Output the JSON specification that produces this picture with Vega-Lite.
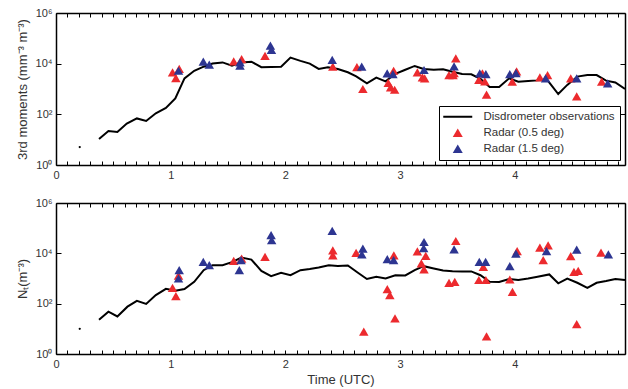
{
  "$schema": "https://vega.github.io/schema/vega-lite/v6.json",
  "padding": {"left": 16, "top": 7, "right": 1, "bottom": 2},
  "spacing": 17,
  "config": {
    "font": "Liberation Sans",
    "view": {"stroke": null},
    "axis": {"grid": false, "domainColor": "black", "domainWidth": 1.5, "tickColor": "black", "tickWidth": 1, "labelFont": "Liberation Sans", "labelFontSize": 11, "labelColor": "#333", "titleFont": "Liberation Sans", "titleFontSize": 13, "titleFontWeight": "normal", "titleColor": "#333", "labelOverlap": false, "labelFlush": false}
  },
  "datasets": {
    "topD": [
      {"t":0.207,"v":5.1,"s":"Disdrometer observations"},{"t":0.375,"v":10.7,"s":"Disdrometer observations"},{"t":0.457,"v":22,"s":"Disdrometer observations"},{"t":0.535,"v":20,"s":"Disdrometer observations"},{"t":0.617,"v":43,"s":"Disdrometer observations"},{"t":0.705,"v":69,"s":"Disdrometer observations"},{"t":0.786,"v":55,"s":"Disdrometer observations"},{"t":0.87,"v":110,"s":"Disdrometer observations"},{"t":0.958,"v":178,"s":"Disdrometer observations"},{"t":1.04,"v":427,"s":"Disdrometer observations"},{"t":1.12,"v":2630,"s":"Disdrometer observations"},{"t":1.205,"v":5250,"s":"Disdrometer observations"},{"t":1.287,"v":7590,"s":"Disdrometer observations"},{"t":1.365,"v":10200,"s":"Disdrometer observations"},{"t":1.452,"v":11200,"s":"Disdrometer observations"},{"t":1.534,"v":8320,"s":"Disdrometer observations"},{"t":1.616,"v":11200,"s":"Disdrometer observations"},{"t":1.703,"v":12000,"s":"Disdrometer observations"},{"t":1.79,"v":7240,"s":"Disdrometer observations"},{"t":1.875,"v":7410,"s":"Disdrometer observations"},{"t":1.962,"v":7590,"s":"Disdrometer observations"},{"t":2.044,"v":17400,"s":"Disdrometer observations"},{"t":2.131,"v":12900,"s":"Disdrometer observations"},{"t":2.212,"v":10000,"s":"Disdrometer observations"},{"t":2.29,"v":6170,"s":"Disdrometer observations"},{"t":2.37,"v":7240,"s":"Disdrometer observations"},{"t":2.457,"v":6170,"s":"Disdrometer observations"},{"t":2.544,"v":4570,"s":"Disdrometer observations"},{"t":2.617,"v":3160,"s":"Disdrometer observations"},{"t":2.71,"v":1660,"s":"Disdrometer observations"},{"t":2.792,"v":2820,"s":"Disdrometer observations"},{"t":2.873,"v":2000,"s":"Disdrometer observations"},{"t":2.958,"v":3980,"s":"Disdrometer observations"},{"t":3.045,"v":5750,"s":"Disdrometer observations"},{"t":3.127,"v":8130,"s":"Disdrometer observations"},{"t":3.205,"v":6170,"s":"Disdrometer observations"},{"t":3.293,"v":5750,"s":"Disdrometer observations"},{"t":3.374,"v":6030,"s":"Disdrometer observations"},{"t":3.456,"v":4790,"s":"Disdrometer observations"},{"t":3.54,"v":3890,"s":"Disdrometer observations"},{"t":3.62,"v":3800,"s":"Disdrometer observations"},{"t":3.7,"v":2510,"s":"Disdrometer observations"},{"t":3.78,"v":1200,"s":"Disdrometer observations"},{"t":3.863,"v":1200,"s":"Disdrometer observations"},{"t":3.95,"v":2630,"s":"Disdrometer observations"},{"t":4.03,"v":1950,"s":"Disdrometer observations"},{"t":4.116,"v":2090,"s":"Disdrometer observations"},{"t":4.198,"v":2190,"s":"Disdrometer observations"},{"t":4.28,"v":2340,"s":"Disdrometer observations"},{"t":4.378,"v":631,"s":"Disdrometer observations"},{"t":4.457,"v":1450,"s":"Disdrometer observations"},{"t":4.544,"v":3090,"s":"Disdrometer observations"},{"t":4.632,"v":3550,"s":"Disdrometer observations"},{"t":4.713,"v":3550,"s":"Disdrometer observations"},{"t":4.795,"v":2140,"s":"Disdrometer observations"},{"t":4.876,"v":1820,"s":"Disdrometer observations"},{"t":4.96,"v":1000,"s":"Disdrometer observations"}
    ],
    "topR": [
      {"t":1.016,"v":4570,"s":"Radar (0.5 deg)"},{"t":1.045,"v":2690,"s":"Radar (0.5 deg)"},{"t":1.074,"v":6170,"s":"Radar (0.5 deg)"},{"t":1.549,"v":12300,"s":"Radar (0.5 deg)"},{"t":1.618,"v":15100,"s":"Radar (0.5 deg)"},{"t":1.822,"v":20400,"s":"Radar (0.5 deg)"},{"t":2.413,"v":7590,"s":"Radar (0.5 deg)"},{"t":2.623,"v":7240,"s":"Radar (0.5 deg)"},{"t":2.675,"v":1000,"s":"Radar (0.5 deg)"},{"t":2.896,"v":1740,"s":"Radar (0.5 deg)"},{"t":2.917,"v":1170,"s":"Radar (0.5 deg)"},{"t":2.952,"v":933,"s":"Radar (0.5 deg)"},{"t":2.943,"v":5250,"s":"Radar (0.5 deg)"},{"t":3.15,"v":4570,"s":"Radar (0.5 deg)"},{"t":3.194,"v":2880,"s":"Radar (0.5 deg)"},{"t":3.214,"v":2630,"s":"Radar (0.5 deg)"},{"t":3.426,"v":3550,"s":"Radar (0.5 deg)"},{"t":3.461,"v":3550,"s":"Radar (0.5 deg)"},{"t":3.485,"v":16200,"s":"Radar (0.5 deg)"},{"t":3.47,"v":4270,"s":"Radar (0.5 deg)"},{"t":3.686,"v":2290,"s":"Radar (0.5 deg)"},{"t":3.717,"v":4170,"s":"Radar (0.5 deg)"},{"t":3.738,"v":2000,"s":"Radar (0.5 deg)"},{"t":3.753,"v":603,"s":"Radar (0.5 deg)"},{"t":3.977,"v":1950,"s":"Radar (0.5 deg)"},{"t":4.015,"v":5010,"s":"Radar (0.5 deg)"},{"t":4.218,"v":2880,"s":"Radar (0.5 deg)"},{"t":4.285,"v":3550,"s":"Radar (0.5 deg)"},{"t":4.487,"v":2630,"s":"Radar (0.5 deg)"},{"t":4.539,"v":513,"s":"Radar (0.5 deg)"},{"t":4.757,"v":1950,"s":"Radar (0.5 deg)"},
      {"t":1.068,"v":5250,"s":"Radar (1.5 deg)"},{"t":1.284,"v":12000,"s":"Radar (1.5 deg)"},{"t":1.336,"v":9120,"s":"Radar (1.5 deg)"},{"t":1.604,"v":11200,"s":"Radar (1.5 deg)"},{"t":1.604,"v":8320,"s":"Radar (1.5 deg)"},{"t":1.869,"v":51300,"s":"Radar (1.5 deg)"},{"t":1.878,"v":34700,"s":"Radar (1.5 deg)"},{"t":2.408,"v":14100,"s":"Radar (1.5 deg)"},{"t":2.665,"v":7590,"s":"Radar (1.5 deg)"},{"t":2.887,"v":4170,"s":"Radar (1.5 deg)"},{"t":2.937,"v":3890,"s":"Radar (1.5 deg)"},{"t":3.208,"v":5620,"s":"Radar (1.5 deg)"},{"t":3.47,"v":7760,"s":"Radar (1.5 deg)"},{"t":3.694,"v":4170,"s":"Radar (1.5 deg)"},{"t":3.747,"v":3890,"s":"Radar (1.5 deg)"},{"t":3.956,"v":3890,"s":"Radar (1.5 deg)"},{"t":4.009,"v":4270,"s":"Radar (1.5 deg)"},{"t":4.268,"v":2630,"s":"Radar (1.5 deg)"},{"t":4.539,"v":2630,"s":"Radar (1.5 deg)"},{"t":4.809,"v":1660,"s":"Radar (1.5 deg)"}
    ],
    "botD": [
      {"t":0.207,"v":10,"s":"Disdrometer observations"},{"t":0.375,"v":23,"s":"Disdrometer observations"},{"t":0.457,"v":48,"s":"Disdrometer observations"},{"t":0.535,"v":31,"s":"Disdrometer observations"},{"t":0.623,"v":76,"s":"Disdrometer observations"},{"t":0.705,"v":129,"s":"Disdrometer observations"},{"t":0.786,"v":98,"s":"Disdrometer observations"},{"t":0.87,"v":219,"s":"Disdrometer observations"},{"t":0.958,"v":389,"s":"Disdrometer observations"},{"t":1.04,"v":324,"s":"Disdrometer observations"},{"t":1.12,"v":380,"s":"Disdrometer observations"},{"t":1.205,"v":741,"s":"Disdrometer observations"},{"t":1.287,"v":2140,"s":"Disdrometer observations"},{"t":1.365,"v":3390,"s":"Disdrometer observations"},{"t":1.452,"v":3390,"s":"Disdrometer observations"},{"t":1.534,"v":4470,"s":"Disdrometer observations"},{"t":1.616,"v":6760,"s":"Disdrometer observations"},{"t":1.703,"v":5620,"s":"Disdrometer observations"},{"t":1.79,"v":2000,"s":"Disdrometer observations"},{"t":1.875,"v":1230,"s":"Disdrometer observations"},{"t":1.962,"v":1700,"s":"Disdrometer observations"},{"t":2.044,"v":1350,"s":"Disdrometer observations"},{"t":2.131,"v":2140,"s":"Disdrometer observations"},{"t":2.212,"v":2400,"s":"Disdrometer observations"},{"t":2.29,"v":2750,"s":"Disdrometer observations"},{"t":2.378,"v":3390,"s":"Disdrometer observations"},{"t":2.457,"v":3160,"s":"Disdrometer observations"},{"t":2.544,"v":3310,"s":"Disdrometer observations"},{"t":2.632,"v":1700,"s":"Disdrometer observations"},{"t":2.71,"v":955,"s":"Disdrometer observations"},{"t":2.792,"v":1170,"s":"Disdrometer observations"},{"t":2.873,"v":1000,"s":"Disdrometer observations"},{"t":2.958,"v":1350,"s":"Disdrometer observations"},{"t":3.045,"v":1320,"s":"Disdrometer observations"},{"t":3.127,"v":2140,"s":"Disdrometer observations"},{"t":3.205,"v":3090,"s":"Disdrometer observations"},{"t":3.293,"v":2510,"s":"Disdrometer observations"},{"t":3.374,"v":2090,"s":"Disdrometer observations"},{"t":3.456,"v":1950,"s":"Disdrometer observations"},{"t":3.54,"v":1910,"s":"Disdrometer observations"},{"t":3.62,"v":1910,"s":"Disdrometer observations"},{"t":3.7,"v":1350,"s":"Disdrometer observations"},{"t":3.78,"v":741,"s":"Disdrometer observations"},{"t":3.863,"v":724,"s":"Disdrometer observations"},{"t":3.95,"v":955,"s":"Disdrometer observations"},{"t":4.03,"v":871,"s":"Disdrometer observations"},{"t":4.116,"v":1000,"s":"Disdrometer observations"},{"t":4.198,"v":1170,"s":"Disdrometer observations"},{"t":4.3,"v":1450,"s":"Disdrometer observations"},{"t":4.378,"v":646,"s":"Disdrometer observations"},{"t":4.457,"v":1000,"s":"Disdrometer observations"},{"t":4.544,"v":676,"s":"Disdrometer observations"},{"t":4.632,"v":427,"s":"Disdrometer observations"},{"t":4.713,"v":676,"s":"Disdrometer observations"},{"t":4.795,"v":794,"s":"Disdrometer observations"},{"t":4.876,"v":955,"s":"Disdrometer observations"},{"t":4.96,"v":871,"s":"Disdrometer observations"}
    ],
    "botR": [
      {"t":1.016,"v":427,"s":"Radar (0.5 deg)"},{"t":1.045,"v":200,"s":"Radar (0.5 deg)"},{"t":1.068,"v":1290,"s":"Radar (0.5 deg)"},{"t":1.549,"v":5010,"s":"Radar (0.5 deg)"},{"t":1.618,"v":6170,"s":"Radar (0.5 deg)"},{"t":1.822,"v":7240,"s":"Radar (0.5 deg)"},{"t":2.413,"v":13200,"s":"Radar (0.5 deg)"},{"t":2.413,"v":8320,"s":"Radar (0.5 deg)"},{"t":2.616,"v":10500,"s":"Radar (0.5 deg)"},{"t":2.683,"v":7.8,"s":"Radar (0.5 deg)"},{"t":2.888,"v":380,"s":"Radar (0.5 deg)"},{"t":2.91,"v":219,"s":"Radar (0.5 deg)"},{"t":2.945,"v":8320,"s":"Radar (0.5 deg)"},{"t":2.955,"v":26,"s":"Radar (0.5 deg)"},{"t":3.15,"v":12000,"s":"Radar (0.5 deg)"},{"t":3.185,"v":3980,"s":"Radar (0.5 deg)"},{"t":3.208,"v":2290,"s":"Radar (0.5 deg)"},{"t":3.223,"v":7940,"s":"Radar (0.5 deg)"},{"t":3.426,"v":676,"s":"Radar (0.5 deg)"},{"t":3.476,"v":741,"s":"Radar (0.5 deg)"},{"t":3.485,"v":30900,"s":"Radar (0.5 deg)"},{"t":3.686,"v":871,"s":"Radar (0.5 deg)"},{"t":3.725,"v":2880,"s":"Radar (0.5 deg)"},{"t":3.747,"v":871,"s":"Radar (0.5 deg)"},{"t":3.753,"v":5,"s":"Radar (0.5 deg)"},{"t":3.956,"v":912,"s":"Radar (0.5 deg)"},{"t":3.979,"v":295,"s":"Radar (0.5 deg)"},{"t":4.02,"v":12300,"s":"Radar (0.5 deg)"},{"t":4.218,"v":17000,"s":"Radar (0.5 deg)"},{"t":4.247,"v":5370,"s":"Radar (0.5 deg)"},{"t":4.29,"v":20900,"s":"Radar (0.5 deg)"},{"t":4.487,"v":7760,"s":"Radar (0.5 deg)"},{"t":4.515,"v":1820,"s":"Radar (0.5 deg)"},{"t":4.552,"v":2000,"s":"Radar (0.5 deg)"},{"t":4.539,"v":15.5,"s":"Radar (0.5 deg)"},{"t":4.751,"v":10700,"s":"Radar (0.5 deg)"},
      {"t":1.074,"v":2140,"s":"Radar (1.5 deg)"},{"t":1.068,"v":1000,"s":"Radar (1.5 deg)"},{"t":1.284,"v":4570,"s":"Radar (1.5 deg)"},{"t":1.336,"v":3390,"s":"Radar (1.5 deg)"},{"t":1.613,"v":5370,"s":"Radar (1.5 deg)"},{"t":1.598,"v":2140,"s":"Radar (1.5 deg)"},{"t":1.875,"v":52500,"s":"Radar (1.5 deg)"},{"t":1.88,"v":33100,"s":"Radar (1.5 deg)"},{"t":2.408,"v":77600,"s":"Radar (1.5 deg)"},{"t":2.675,"v":15500,"s":"Radar (1.5 deg)"},{"t":2.666,"v":9120,"s":"Radar (1.5 deg)"},{"t":2.888,"v":5890,"s":"Radar (1.5 deg)"},{"t":2.943,"v":5370,"s":"Radar (1.5 deg)"},{"t":3.208,"v":28200,"s":"Radar (1.5 deg)"},{"t":3.205,"v":16200,"s":"Radar (1.5 deg)"},{"t":3.47,"v":14500,"s":"Radar (1.5 deg)"},{"t":3.69,"v":4570,"s":"Radar (1.5 deg)"},{"t":3.745,"v":4570,"s":"Radar (1.5 deg)"},{"t":3.956,"v":3090,"s":"Radar (1.5 deg)"},{"t":4.009,"v":9770,"s":"Radar (1.5 deg)"},{"t":4.276,"v":12300,"s":"Radar (1.5 deg)"},{"t":4.539,"v":14100,"s":"Radar (1.5 deg)"},{"t":4.815,"v":9120,"s":"Radar (1.5 deg)"}
    ]
  },
  "vconcat": [
    {
      "width": 569, "height": 152,
      "layer": [
        {
          "data": {"name": "topD"},
          "transform": [{"filter": "datum.t > 0.3"}],
          "mark": {"type": "line", "strokeWidth": 2, "clip": true},
          "encoding": {
            "x": {"field": "t", "type": "quantitative", "scale": {"domain": [0, 4.96], "nice": false, "zero": false},
                  "axis": {"title": null, "values": [0,0.1,0.2,0.3,0.4,0.5,0.6,0.7,0.8,0.9,1,1.1,1.2,1.3,1.4,1.5,1.6,1.7,1.8,1.9,2,2.1,2.2,2.3,2.4,2.5,2.6,2.7,2.8,2.9,3,3.1,3.2,3.3,3.4,3.5,3.6,3.7,3.8,3.9,4,4.1,4.2,4.3,4.4,4.5,4.6,4.7,4.8,4.9],
                           "labelExpr": "abs(datum.value - round(datum.value)) < 0.001 ? format(datum.value, 'd') : ''", "tickSize": -4, "labelPadding": 8}},
            "y": {"field": "v", "type": "quantitative", "scale": {"type": "log", "domain": [1, 1000000], "nice": false},
                  "axis": {"title": "3rd moments (mm⁻³ m⁻³)", "values": [1, 100, 10000, 1000000], "labelExpr": "'10' + (datum.value == 1 ? '⁰' : datum.value == 100 ? '²' : datum.value == 10000 ? '⁴' : '⁶')", "tickSize": -5, "labelPadding": 9, "titlePadding": 6}},
            "color": {"field": "s", "type": "nominal", "title": null,
                      "scale": {"domain": ["Disdrometer observations", "Radar (0.5 deg)", "Radar (1.5 deg)"], "range": ["#000000", "#ec2a2e", "#2d3591"]},
                      "legend": {"orient": "bottom-right", "offset": 5, "title": null, "strokeColor": "black", "fillColor": "white", "padding": 5, "symbolOffset": 8, "labelOffset": 20, "labelFontSize": 11.5, "labelFont": "Liberation Sans", "labelColor": "#333", "rowPadding": 3, "symbolSize": 100,
                                 "encode": {"symbols": {"update": {"stroke": {"scale": "color", "field": "value"}, "strokeWidth": {"signal": "datum.value === 'Disdrometer observations' ? 2 : 0"}}}}}}
          }
        },
        {
          "data": {"name": "topD"},
          "transform": [{"filter": "datum.t < 0.3"}],
          "mark": {"type": "point", "shape": "circle", "filled": true, "color": "black", "size": 5, "opacity": 1},
          "encoding": {
            "x": {"field": "t", "type": "quantitative", "scale": {"domain": [0, 4.96], "nice": false, "zero": false}, "axis": null},
            "y": {"field": "v", "type": "quantitative", "scale": {"type": "log", "domain": [1, 1000000], "nice": false}, "axis": null}
          }
        },
        {
          "data": {"name": "topR"},
          "mark": {"type": "point", "filled": true, "size": 90, "opacity": 1},
          "encoding": {
            "x": {"field": "t", "type": "quantitative", "scale": {"domain": [0, 4.96], "nice": false, "zero": false},
                  "axis": {"orient": "top", "title": null, "labels": false, "values": [0,0.1,0.2,0.3,0.4,0.5,0.6,0.7,0.8,0.9,1,1.1,1.2,1.3,1.4,1.5,1.6,1.7,1.8,1.9,2,2.1,2.2,2.3,2.4,2.5,2.6,2.7,2.8,2.9,3,3.1,3.2,3.3,3.4,3.5,3.6,3.7,3.8,3.9,4,4.1,4.2,4.3,4.4,4.5,4.6,4.7,4.8,4.9], "tickSize": -4}},
            "y": {"field": "v", "type": "quantitative", "scale": {"type": "log", "domain": [1, 1000000], "nice": false},
                  "axis": {"orient": "right", "title": null, "labels": false, "values": [1, 100, 10000, 1000000], "tickSize": -5}},
            "color": {"field": "s", "type": "nominal", "title": null},
            "shape": {"field": "s", "type": "nominal", "title": null,
                      "scale": {"domain": ["Disdrometer observations", "Radar (0.5 deg)", "Radar (1.5 deg)"], "range": ["M-2.9,0H2.9", "triangle-up", "triangle-up"]}}
          }
        }
      ],
      "resolve": {"scale": {"x": "independent", "y": "independent"}, "axis": {"x": "independent", "y": "independent"}}
    },
    {
      "width": 569, "height": 151,
      "layer": [
        {
          "data": {"name": "botD"},
          "transform": [{"filter": "datum.t > 0.3"}],
          "mark": {"type": "line", "strokeWidth": 2, "clip": true, "color": "black"},
          "encoding": {
            "x": {"field": "t", "type": "quantitative", "scale": {"domain": [0, 4.96], "nice": false, "zero": false},
                  "axis": {"title": "Time (UTC)", "values": [0,0.1,0.2,0.3,0.4,0.5,0.6,0.7,0.8,0.9,1,1.1,1.2,1.3,1.4,1.5,1.6,1.7,1.8,1.9,2,2.1,2.2,2.3,2.4,2.5,2.6,2.7,2.8,2.9,3,3.1,3.2,3.3,3.4,3.5,3.6,3.7,3.8,3.9,4,4.1,4.2,4.3,4.4,4.5,4.6,4.7,4.8,4.9],
                           "labelExpr": "abs(datum.value - round(datum.value)) < 0.001 ? format(datum.value, 'd') : ''", "tickSize": -4, "labelPadding": 8, "titlePadding": 4}},
            "y": {"field": "v", "type": "quantitative", "scale": {"type": "log", "domain": [1, 1000000], "nice": false},
                  "axis": {"title": "Nₜ(m⁻³)", "values": [1, 100, 10000, 1000000], "labelExpr": "'10' + (datum.value == 1 ? '⁰' : datum.value == 100 ? '²' : datum.value == 10000 ? '⁴' : '⁶')", "tickSize": -5, "labelPadding": 9, "titlePadding": 6}}
          }
        },
        {
          "data": {"name": "botD"},
          "transform": [{"filter": "datum.t < 0.3"}],
          "mark": {"type": "point", "shape": "circle", "filled": true, "color": "black", "size": 5, "opacity": 1},
          "encoding": {
            "x": {"field": "t", "type": "quantitative", "scale": {"domain": [0, 4.96], "nice": false, "zero": false}, "axis": null},
            "y": {"field": "v", "type": "quantitative", "scale": {"type": "log", "domain": [1, 1000000], "nice": false}, "axis": null}
          }
        },
        {
          "data": {"name": "botR"},
          "mark": {"type": "point", "filled": true, "size": 90, "opacity": 1, "shape": "triangle-up"},
          "encoding": {
            "x": {"field": "t", "type": "quantitative", "scale": {"domain": [0, 4.96], "nice": false, "zero": false},
                  "axis": {"orient": "top", "title": null, "labels": false, "values": [0,0.1,0.2,0.3,0.4,0.5,0.6,0.7,0.8,0.9,1,1.1,1.2,1.3,1.4,1.5,1.6,1.7,1.8,1.9,2,2.1,2.2,2.3,2.4,2.5,2.6,2.7,2.8,2.9,3,3.1,3.2,3.3,3.4,3.5,3.6,3.7,3.8,3.9,4,4.1,4.2,4.3,4.4,4.5,4.6,4.7,4.8,4.9], "tickSize": -4}},
            "y": {"field": "v", "type": "quantitative", "scale": {"type": "log", "domain": [1, 1000000], "nice": false},
                  "axis": {"orient": "right", "title": null, "labels": false, "values": [1, 100, 10000, 1000000], "tickSize": -5}},
            "color": {"field": "s", "type": "nominal", "legend": null,
                      "scale": {"domain": ["Radar (0.5 deg)", "Radar (1.5 deg)"], "range": ["#ec2a2e", "#2d3591"]}}
          }
        }
      ],
      "resolve": {"scale": {"x": "independent", "y": "independent"}, "axis": {"x": "independent", "y": "independent"}}
    }
  ],
  "resolve": {"scale": {"color": "independent", "shape": "independent"}, "legend": {"color": "independent", "shape": "independent"}}
}
